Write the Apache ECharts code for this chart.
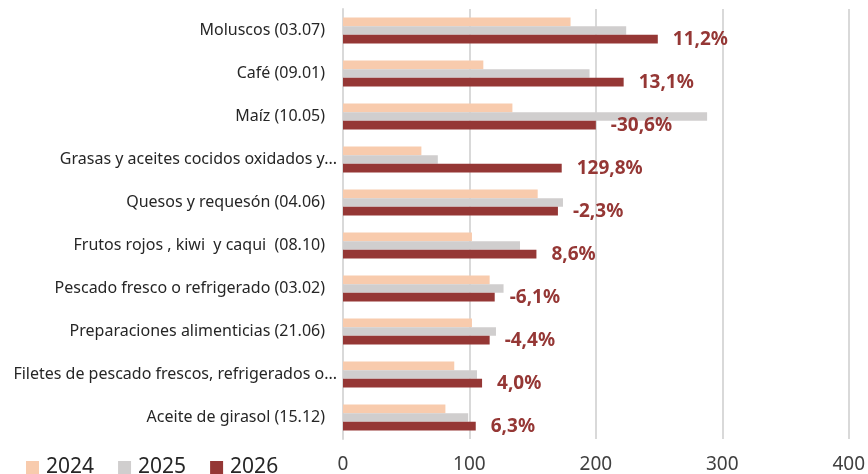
<!DOCTYPE html>
<html>
<head>
<meta charset="utf-8">
<script src="https://cdn.jsdelivr.net/npm/echarts@6/dist/echarts.min.js"></script>
<style>
  html, body { margin: 0; padding: 0; background: #fff; }
  #chart { width: 868px; height: 474px; }
</style>
</head>
<body>
<div id="chart"></div>
<script>
// categorias de arriba hacia abajo
const categorias = [
    'Moluscos (03.07)',
    'Café (09.01)',
    'Maíz (10.05)',
    'Grasas y aceites cocidos oxidados y...',
    'Quesos y requesón (04.06)',
    'Frutos rojos , kiwi  y caqui  (08.10)',
    'Pescado fresco o refrigerado (03.02)',
    'Preparaciones alimenticias (21.06)',
    'Filetes de pescado frescos, refrigerados o...',
    'Aceite de girasol (15.12)'
];
const valores2024 = [180, 111, 134, 62, 154, 102, 116, 102, 88, 81];
const valores2025 = [224, 195, 288, 75, 174, 140, 127, 121, 106, 99];
const valores2026 = [249, 222, 200, 173, 170, 153, 120, 116, 110, 105];
const variacion = ['11,2%', '13,1%', '-30,6%', '129,8%', '-2,3%', '8,6%', '-6,1%', '-4,4%', '4,0%', '6,3%'];
const ticksX = [0, 100, 200, 300, 400];

const chart = echarts.init(document.getElementById('chart'));

// etiquetas largas ya vienen recortadas con "...", las demas llevan un poco de aire
function etiquetaCat(v) {
    return v.endsWith('...') ? '{t|' + v + '}' : '{n|' + v + '}';
}

const option = {
    animation: false,
    textStyle: { fontFamily: 'Noto Sans' },
    legend: {
        left: 21,
        top: 452,
        itemWidth: 13,
        itemHeight: 13,
        itemGap: 24,
        icon: 'rect',
        textStyle: { fontSize: 21, color: '#262626', fontFamily: 'Noto Sans', padding: [0, 0, 0, 2] },
        data: ['2024', '2025', '2026']
    },
    grid: { left: 343, right: 18, top: 9, bottom: 31, containLabel: false },
    xAxis: {
        type: 'value',
        min: ticksX[0],
        max: ticksX[ticksX.length - 1],
        interval: 100,
        axisLine: { show: false },
        axisTick: { show: false },
        axisLabel: { fontSize: 19, color: '#404040', margin: 16 },
        splitLine: { lineStyle: { color: '#d9d9d9', width: 2 } }
    },
    yAxis: {
        type: 'category',
        inverse: true,
        data: categorias,
        axisLine: { show: true, lineStyle: { color: '#d9d9d9', width: 2 } },
        axisTick: { show: false },
        axisLabel: {
            margin: 6,
            formatter: etiquetaCat,
            rich: {
                n: { fontSize: 16, color: '#262626', padding: [0, 12, 0, 0], fontFamily: 'Noto Sans' },
                t: { fontSize: 16, color: '#262626', fontFamily: 'Noto Sans' }
            }
        }
    },
    series: [
        {
            name: '2024', type: 'bar', data: valores2024,
            itemStyle: { color: '#f8cbad' },
            barGap: '0%', barCategoryGap: '40%'
        },
        {
            name: '2025', type: 'bar', data: valores2025,
            itemStyle: { color: '#d0cece' },
            barGap: '0%', barCategoryGap: '40%'
        },
        {
            name: '2026', type: 'bar', data: valores2026,
            itemStyle: { color: '#953735' },
            barGap: '0%', barCategoryGap: '40%',
            label: {
                show: true,
                position: 'right',
                distance: 15,
                color: '#953735',
                fontWeight: 'bold',
                fontSize: 19,
                fontFamily: 'Noto Sans',
                formatter: p => variacion[p.dataIndex]
            }
        }
    ]
};

chart.setOption(option);
</script>
</body>
</html>
